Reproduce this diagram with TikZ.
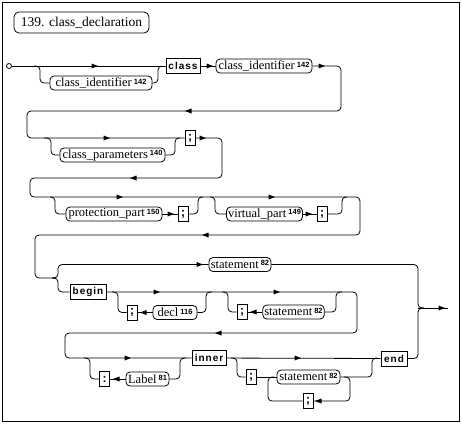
\documentclass[tikz,border=0pt]{standalone}
\usepackage{fontspec}
\setmainfont{Liberation Serif}
\newfontfamily\kwfont[LetterSpace=10]{Liberation Sans}
\newfontfamily\numfont{Liberation Sans}
\usetikzlibrary{positioning}
\newcommand{\refno}[1]{\,\raisebox{2.5pt}{\numfont\bfseries\fontsize{7.5}{8}\selectfont #1}}
\tikzset{%
  rail/.style={line width=.8pt,rounded corners=4pt},
  nt/.style={draw,line width=.8pt,rounded corners=4pt,inner xsep=1.5pt,inner ysep=0pt,
    minimum height=14pt,font=\fontsize{12.5}{13}\selectfont},
  kw/.style={draw,line width=.8pt,inner sep=0pt,minimum height=15pt,
    font=\kwfont\bfseries\fontsize{10}{11}\selectfont},
  sym/.style={kw,minimum width=10pt,font=\numfont\bfseries\fontsize{12}{12}\selectfont},
  rarr/.pic={\fill (-3.5,-2.5) -- (3,0) -- (-3.5,2.5) -- cycle;},
  larr/.pic={\fill (3.5,-2.5) -- (-3,0) -- (3.5,2.5) -- cycle;}
}
\begin{document}
\begin{tikzpicture}[x=1pt,y=-1pt]
  \useasboundingbox (0,0) rectangle (462,424);
  \draw[line width=.8pt] (2.5,2.5) rectangle (459.5,421.5);

  \node[nt,minimum width=135pt,minimum height=21pt,rounded corners=5pt,
    font=\fontsize{13.5}{14}\selectfont] (title) at (81.5,22.5) {139. class\_declaration};

  \node[draw,circle,inner sep=0pt,minimum size=5pt,line width=.8pt] (start) at (9,66) {};
  \node[nt,minimum width=102pt] (ci1) at (101,83) {class\_identifier\refno{142}};
  \node[kw,minimum width=34pt] (cls) at (183,66) {class};
  \node[nt,minimum width=96pt] (ci2) at (264,66) {class\_identifier\refno{142}};

  \node[nt,minimum width=105pt] (cp) at (112.5,155) {class\_parameters\refno{140}};
  \node[sym] (s1) at (190,138) {;};

  \node[nt,minimum width=96pt] (pp) at (114,214) {protection\_part\refno{150}};
  \node[sym] (s2) at (183,214) {;};
  \node[nt,minimum width=75pt] (vp) at (264.5,214) {virtual\_part\refno{149}};
  \node[sym] (s3) at (322,214) {;};

  \node[nt,minimum width=62pt] (st1) at (240,264.5) {statement\refno{82}};
  \node[kw,minimum width=36pt] (bgn) at (88,292) {begin};
  \node[sym] (s4) at (132,312.5) {;};
  \node[nt,minimum width=44pt] (dcl) at (175,312.5) {decl\refno{116}};
  \node[sym] (s5) at (242,312) {;};
  \node[nt,minimum width=61pt] (st2) at (293.5,312) {statement\refno{82}};

  \node[sym] (c1) at (104.5,379) {:};
  \node[nt,minimum width=43pt] (lbl) at (147.5,379) {Label\refno{81}};
  \node[kw,minimum width=34pt] (inr) at (209,358) {inner};
  \node[sym] (s6) at (251,377) {;};
  \node[nt,minimum width=63pt] (st3) at (308.5,377) {statement\refno{82}};
  \node[sym] (s7) at (308,401) {;};
  \node[kw,minimum width=26pt] (nd) at (394,358.5) {end};
  \coordinate (exit) at (448,308);

  % first line
  \draw[rail] (start) -- (cls);
  \draw[rail] (34,66) -| (40,83) -- (ci1);
  \draw[rail] (ci1) -| (158,66) -- (162,66);
  \draw[rail] (cls) -- (ci2);
  \draw[rail] (ci2) -| (341,111) -| (27,138) -- (s1);

  \draw[rail] (44,138) -| (51,155) -- (cp);
  \draw[rail] (cp) -| (175,138) -- (180,138);
  \draw[rail] (s1) -| (222,178) -| (30,197) -| (360,235) -| (35,278) -- (56,278);

  \draw[rail] (50,197) -| (55,214) -- (pp);
  \draw[rail] (pp) -- (s2);
  \draw[rail] (s2) -| (198,197) -- (203,197);
  \draw[rail] (210,197) -| (215,214) -- (vp);
  \draw[rail] (vp) -- (s3);
  \draw[rail] (s3) -| (342,197) -- (347,197);

  % fork: statement or begin ... end
  \draw[rail] (52,278) -| (58,264.5) -- (st1);
  \draw[rail] (52,278) -| (58,292) -- (bgn);
  \draw[rail] (st1) -| (418,308) -- (424,308);
  \draw[rail] (nd) -| (418,308) -- (424,308);
  \draw[rail] (418,308) -- (exit);
  \draw[rail] (bgn) -| (357,333) -| (65,358) -- (inr);

  \draw[rail] (112,292) -| (118,312.5) -- (s4);
  \draw[rail] (dcl) -- (s4);
  \draw[rail] (dcl) -| (206,292) -- (212,292);
  \draw[rail] (222,292) -| (228,312) -- (s5);
  \draw[rail] (st2) -- (s5);
  \draw[rail] (st2) -| (336,292) -- (342,292);

  \draw[rail] (84,358) -| (90,379) -- (c1);
  \draw[rail] (lbl) -- (c1);
  \draw[rail] (lbl) -| (180,358) -- (186,358);
  \draw[rail] (inr) -- (nd);
  \draw[rail] (231,358) -| (237,377) -- (s6);
  \draw[rail] (s6) -- (st3);
  \draw[rail] (st3) -| (372,358) -- (377,358);
  \draw[rail] (344,377) -| (350,401) -- (s7);
  \draw[rail] (s7) -| (268,377) -- (274,377);

  \foreach \p in {(95,66),(210,66),(322,66),(107,138),(203,138),(120,197),(171,214),
    (272,197),(309,214),(200,264.5),(157,292),(277,292),(128,358),(298,358),(442,308)}
    \pic at \p {rarr};
  \foreach \p in {(188,111),(133,178),(205,235),(143,312.5),(253,312),(218,333),
    (116,379),(318,401)}
    \pic at \p {larr};
\end{tikzpicture}
\end{document}
